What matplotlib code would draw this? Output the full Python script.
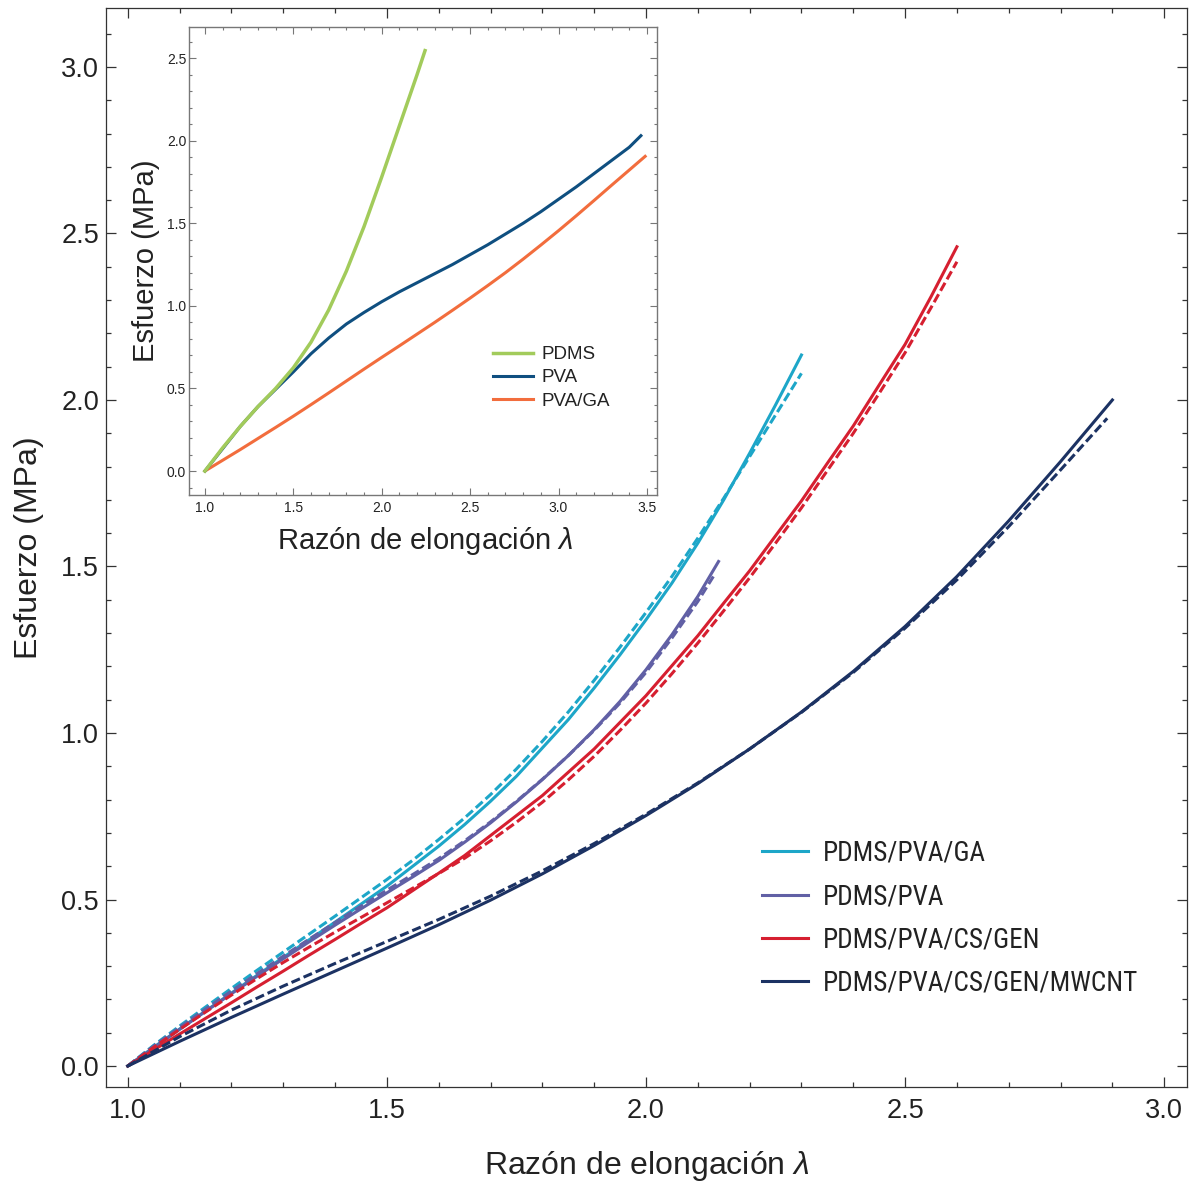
import matplotlib
matplotlib.use("Agg")
import matplotlib.pyplot as plt
import matplotlib.font_manager as fm
from matplotlib.ticker import MultipleLocator, FormatStrFormatter

# ---------------- data ----------------
# main plot: PDMS/PVA/GA
lam_ga = [1.0, 1.05, 1.1, 1.15, 1.2, 1.25, 1.3, 1.35, 1.4, 1.45, 1.5, 1.55, 1.6, 1.65, 1.7, 1.75,
          1.8, 1.85, 1.9, 1.95, 2.0, 2.05, 2.1, 2.15, 2.2, 2.25, 2.3]
fit_ga = [0.0, 0.056, 0.111, 0.165, 0.219, 0.273, 0.326, 0.379, 0.432, 0.486, 0.54, 0.60, 0.66, 0.725,
          0.795, 0.87, 0.955, 1.04, 1.135, 1.235, 1.34, 1.45, 1.57, 1.70, 1.84, 1.985, 2.135]
exp_ga = [0.0, 0.062, 0.12, 0.177, 0.233, 0.288, 0.342, 0.396, 0.45, 0.505, 0.56, 0.618, 0.68, 0.745,
          0.815, 0.892, 0.975, 1.063, 1.158, 1.258, 1.362, 1.47, 1.585, 1.705, 1.83, 1.955, 2.08]

# PDMS/PVA
lam_pva = [1.0, 1.05, 1.1, 1.15, 1.2, 1.25, 1.3, 1.35, 1.4, 1.45, 1.5, 1.55, 1.6, 1.65, 1.7, 1.75,
           1.8, 1.85, 1.9, 1.95, 2.0, 2.05, 2.1, 2.14]
fit_pva = [0.0, 0.055, 0.11, 0.164, 0.217, 0.27, 0.322, 0.373, 0.423, 0.472, 0.52, 0.568, 0.617, 0.672,
           0.73, 0.793, 0.86, 0.932, 1.01, 1.095, 1.19, 1.295, 1.41, 1.515]
lam_pva_e = [1.0, 1.05, 1.1, 1.15, 1.2, 1.25, 1.3, 1.35, 1.4, 1.45, 1.5, 1.55, 1.6, 1.65, 1.7, 1.75,
             1.8, 1.85, 1.9, 1.95, 2.0, 2.05, 2.1, 2.13]
exp_pva = [0.0, 0.06, 0.116, 0.171, 0.225, 0.278, 0.33, 0.381, 0.431, 0.48, 0.528, 0.575, 0.623, 0.676,
           0.733, 0.795, 0.861, 0.932, 1.008, 1.09, 1.182, 1.285, 1.395, 1.47]

# PDMS/PVA/CS/GEN
lam_gen = [1.0, 1.05, 1.1, 1.15, 1.2, 1.25, 1.3, 1.35, 1.4, 1.45, 1.5, 1.55, 1.6, 1.65, 1.7, 1.75,
           1.8, 1.85, 1.9, 1.95, 2.0, 2.05, 2.1, 2.15, 2.2, 2.25, 2.3, 2.35, 2.4, 2.45, 2.5, 2.55, 2.6]
fit_gen = [0.0, 0.048, 0.096, 0.143, 0.19, 0.238, 0.285, 0.333, 0.38, 0.428, 0.475, 0.527, 0.579, 0.632,
           0.692, 0.752, 0.812, 0.882, 0.952, 1.032, 1.112, 1.202, 1.292, 1.39, 1.487, 1.592, 1.697,
           1.81, 1.922, 2.045, 2.167, 2.31, 2.46]
exp_gen = [0.0, 0.056, 0.11, 0.162, 0.213, 0.263, 0.311, 0.357, 0.402, 0.446, 0.49, 0.534, 0.578, 0.624,
           0.676, 0.732, 0.792, 0.859, 0.93, 1.008, 1.09, 1.178, 1.27, 1.367, 1.466, 1.57, 1.676,
           1.788, 1.9, 2.02, 2.142, 2.277, 2.415]

# PDMS/PVA/CS/GEN/MWCNT
lam_cnt = [1.0, 1.1, 1.2, 1.3, 1.4, 1.5, 1.6, 1.7, 1.8, 1.9, 2.0, 2.1, 2.2, 2.3, 2.4, 2.5, 2.6, 2.7, 2.8, 2.9]
fit_cnt = [0.0, 0.074, 0.146, 0.216, 0.285, 0.354, 0.424, 0.498, 0.577, 0.662, 0.752, 0.848, 0.952, 1.063,
           1.185, 1.32, 1.47, 1.637, 1.815, 2.0]
lam_cnt_e = [1.0, 1.1, 1.2, 1.3, 1.4, 1.5, 1.6, 1.7, 1.8, 1.9, 2.0, 2.1, 2.2, 2.3, 2.4, 2.5, 2.6, 2.7, 2.8, 2.89]
exp_cnt = [0.0, 0.088, 0.168, 0.24, 0.308, 0.374, 0.44, 0.51, 0.586, 0.668, 0.756, 0.85, 0.952, 1.062,
           1.182, 1.315, 1.46, 1.62, 1.79, 1.945]

# inset
lam_pdms = [1.0, 1.1, 1.2, 1.3, 1.4, 1.5, 1.6, 1.7, 1.8, 1.9, 2.0, 2.1, 2.2, 2.245]
sig_pdms = [0.0, 0.14, 0.27, 0.39, 0.50, 0.625, 0.78, 0.975, 1.21, 1.48, 1.78, 2.09, 2.40, 2.545]
lam_pva_i = [1.0, 1.1, 1.2, 1.3, 1.4, 1.5, 1.6, 1.7, 1.8, 1.9, 2.0, 2.1, 2.2, 2.3, 2.4, 2.5,
             2.6, 2.7, 2.8, 2.9, 3.0, 3.1, 3.2, 3.3, 3.4, 3.466]
sig_pva_i = [0.0, 0.135, 0.27, 0.39, 0.495, 0.60, 0.71, 0.805, 0.89, 0.96, 1.025, 1.085, 1.14, 1.195, 1.25,
             1.31, 1.37, 1.435, 1.50, 1.57, 1.645, 1.72, 1.80, 1.88, 1.96, 2.03]
lam_pvaga = [1.0, 1.1, 1.2, 1.3, 1.4, 1.5, 1.6, 1.7, 1.8, 1.9, 2.0, 2.1, 2.2, 2.3, 2.4, 2.5,
             2.6, 2.7, 2.8, 2.9, 3.0, 3.1, 3.2, 3.3, 3.4, 3.49]
sig_pvaga = [0.0, 0.065, 0.13, 0.197, 0.264, 0.332, 0.402, 0.473, 0.545, 0.617, 0.688, 0.758, 0.829, 0.9,
             0.973, 1.047, 1.123, 1.201, 1.283, 1.368, 1.455, 1.545, 1.637, 1.73, 1.822, 1.905]

main_labels = ["PDMS/PVA/GA", "PDMS/PVA", "PDMS/PVA/CS/GEN", "PDMS/PVA/CS/GEN/MWCNT"]
inset_labels = ["PDMS", "PVA", "PVA/GA"]
main_xticks = [1.0, 1.5, 2.0, 2.5, 3.0]
main_yticks = [0.0, 0.5, 1.0, 1.5, 2.0, 2.5, 3.0]
inset_xticks = [1.0, 1.5, 2.0, 2.5, 3.0, 3.5]
inset_yticks = [0.0, 0.5, 1.0, 1.5, 2.0, 2.5]

# ---------------- style ----------------
names = {f.name for f in fm.fontManager.ttflist}
base = "Liberation Sans"
narrow = base
for cand in ["Liberation Sans Narrow", "Roboto Condensed", "Open Sans Condensed", "Arial Narrow"]:
    if cand in names:
        narrow = cand
        break
plt.rcParams["font.family"] = [base, "DejaVu Sans"]
plt.rcParams["mathtext.fontset"] = "custom"
plt.rcParams["mathtext.it"] = base + ":italic"
plt.rcParams["mathtext.rm"] = base

c_ga, c_pva, c_gen, c_cnt = "#1da6c8", "#6160a5", "#d61f30", "#1c3263"
c_pdms, c_pvai, c_pvaga = "#a2cb5b", "#0f4f80", "#f26d3d"
txt = "#222222"

W, H = 1189, 1185
fig = plt.figure(figsize=(W / 100, H / 100), dpi=100)
ax = fig.add_axes([106 / W, 1 - 1087 / H, 1081 / W, 1079 / H])

lw = 2.2
dash = (0, (3.0, 1.3))
series = [
    (lam_ga, fit_ga, lam_ga, exp_ga, c_ga),
    (lam_pva, fit_pva, lam_pva_e, exp_pva, c_pva),
    (lam_gen, fit_gen, lam_gen, exp_gen, c_gen),
    (lam_cnt, fit_cnt, lam_cnt_e, exp_cnt, c_cnt),
]
handles = []
for (xf, yf, xe, ye, c), lab in zip(series, main_labels):
    ax.plot(xe, ye, color=c, lw=lw, linestyle=dash, solid_joinstyle="round")
    h, = ax.plot(xf, yf, color=c, lw=lw, label=lab, solid_joinstyle="round")
    handles.append(h)

ax.set_xlim(0.958, 3.044)
ax.set_ylim(-0.063, 3.177)
ax.set_xticks(main_xticks)
ax.set_yticks(main_yticks)
ax.xaxis.set_minor_locator(MultipleLocator(0.1))
ax.yaxis.set_minor_locator(MultipleLocator(0.1))
ax.xaxis.set_major_formatter(FormatStrFormatter("%.1f"))
ax.yaxis.set_major_formatter(FormatStrFormatter("%.1f"))
ax.tick_params(which="both", direction="in", top=True, right=True, colors="#333333",
               labelcolor=txt, width=0.9)
ax.tick_params(which="major", length=7, labelsize=19.5)
ax.tick_params(which="minor", length=3.5)
ax.tick_params(axis="x", pad=8)
ax.tick_params(axis="y", pad=5)
for s in ax.spines.values():
    s.set_color("#333333")
    s.set_linewidth(0.9)

ax.set_xlabel(r"Razón de elongación $\lambda$", fontsize=23, color=txt)
ax.set_ylabel("Esfuerzo (MPa)", fontsize=23, color=txt)
ax.xaxis.set_label_coords(0.5, -0.057)
ax.yaxis.set_label_coords(-0.057, 0.5)

# fit legend font so the longest label spans ~315 px like the reference
fig.canvas.draw()
renderer = fig.canvas.get_renderer()
probe = fig.text(0, 0, main_labels[3], fontsize=20.5, family=narrow)
wpx = probe.get_window_extent(renderer).width
probe.remove()
fs = min(20.5, 20.5 * 315.0 / wpx)
fs_px = fs * 100 / 72.0
leg = ax.legend(handles=handles, loc="upper left", bbox_to_anchor=(0.6068, 0.229),
                frameon=False, borderpad=0, borderaxespad=0,
                handlelength=46 / fs_px, handletextpad=15 / fs_px,
                labelspacing=(41.5 - fs_px * 0.93) / fs_px, prop={"family": narrow, "size": fs})
for t in leg.get_texts():
    t.set_color(txt)

# ---------------- inset ----------------
ins = fig.add_axes([189 / W, 1 - 495 / H, 468 / W, 468 / H])
ins.plot(lam_pvaga, sig_pvaga, color=c_pvaga, lw=lw, label=inset_labels[2], solid_joinstyle="round")
ins.plot(lam_pva_i, sig_pva_i, color=c_pvai, lw=lw, label=inset_labels[1], solid_joinstyle="round")
ins.plot(lam_pdms, sig_pdms, color=c_pdms, lw=lw + 0.3, label=inset_labels[0], solid_joinstyle="round")
ins.set_xlim(0.91, 3.557)
ins.set_ylim(-0.145, 2.688)
ins.set_xticks(inset_xticks)
ins.set_yticks(inset_yticks)
ins.xaxis.set_minor_locator(MultipleLocator(0.1))
ins.yaxis.set_minor_locator(MultipleLocator(0.1))
ins.xaxis.set_major_formatter(FormatStrFormatter("%.1f"))
ins.yaxis.set_major_formatter(FormatStrFormatter("%.1f"))
ins.tick_params(which="both", direction="in", top=True, right=True, colors="#777777",
                labelcolor=txt, width=0.8)
ins.tick_params(which="major", length=5, labelsize=10)
ins.tick_params(which="minor", length=2.5)
ins.tick_params(axis="x", pad=4)
ins.tick_params(axis="y", pad=2)
for s in ins.spines.values():
    s.set_color("#777777")
    s.set_linewidth(1.0)
ins.set_xlabel(r"Razón de elongación $\lambda$", fontsize=21, color=txt)
ins.set_ylabel("Esfuerzo (MPa)", fontsize=21, color=txt)
ins.xaxis.set_label_coords(0.504, -0.064)
ins.yaxis.set_label_coords(-0.062, 0.5)

hs, ls = ins.get_legend_handles_labels()
order = [2, 1, 0]
leg2 = ins.legend([hs[i] for i in order], [ls[i] for i in order], loc="upper left",
                  bbox_to_anchor=(0.65, 0.318), frameon=False, borderpad=0, borderaxespad=0,
                  handlelength=2.1, handletextpad=0.45, labelspacing=0.32,
                  prop={"size": 13.5})
for t in leg2.get_texts():
    t.set_color(txt)

fig.savefig("out.png", dpi=100)
